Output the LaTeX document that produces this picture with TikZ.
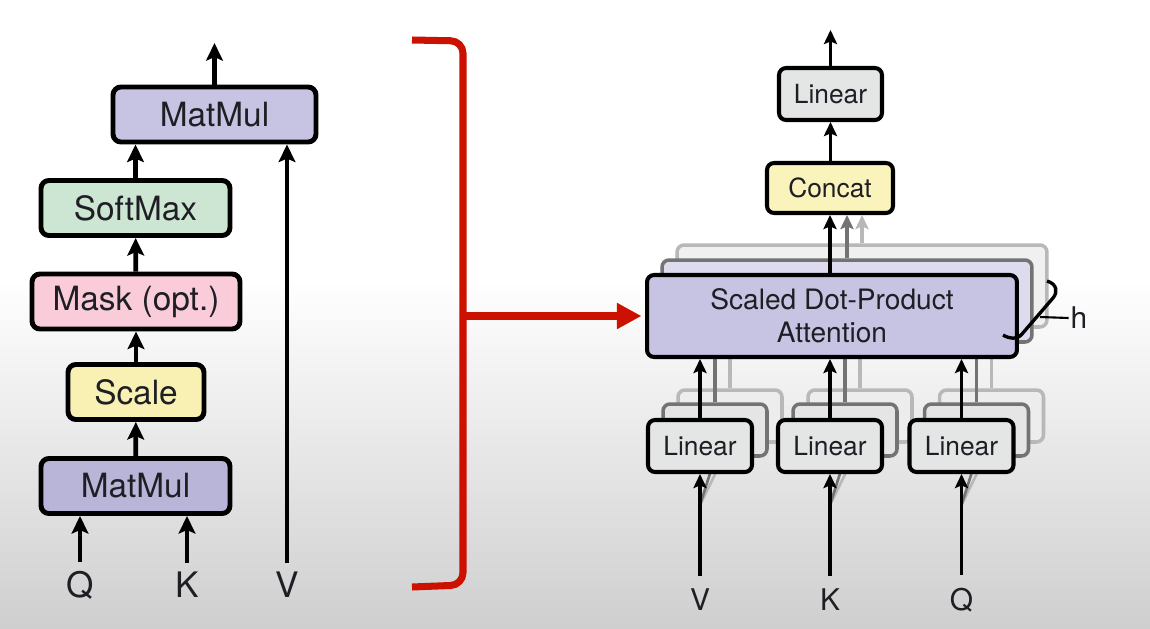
\documentclass[tikz,border=0pt]{standalone}
\usepackage{fontspec}
\setmainfont{TeX Gyre Heros}
\usetikzlibrary{arrows.meta}
\usetikzlibrary{calc}

\definecolor{lav}{HTML}{C7C3E3}
\definecolor{lavdark}{HTML}{B9B5D8}
\definecolor{softgreen}{HTML}{CDE6D3}
\definecolor{maskpink}{HTML}{FACCDA}
\definecolor{scaleyellow}{HTML}{F8F1B3}
\definecolor{concatyellow}{HTML}{FAF4BC}
\definecolor{lingray}{HTML}{E4E6E6}
\definecolor{bracketred}{HTML}{CC1100}
\definecolor{txt}{HTML}{1E1E24}

\tikzset{
  lbox/.style={draw=black, line width=2.8pt, rounded corners=4.5pt, minimum height=1.1cm, inner sep=0pt, text=txt, font=\fontsize{19}{22}\selectfont},
  rbox/.style={draw=black, line width=2.3pt, rounded corners=4pt, minimum height=1.04cm, inner sep=0pt, text=txt, font=\fontsize{15}{18}\selectfont},
  lay2/.style={rbox, draw=black!55, line width=2pt},
  lay3/.style={rbox, draw=black!28, line width=2pt},
  larr/.style={line width=2.7pt, -{Stealth[length=10pt, width=9.5pt, inset=2pt]}},
  rarr/.style={line width=2.1pt, -{Stealth[length=8pt, width=7.5pt, inset=1.5pt]}},
  llab/.style={inner sep=5pt, text=txt, font=\fontsize{20}{24}\selectfont},
  rlab/.style={inner sep=7pt, text=txt, font=\fontsize{17}{20}\selectfont},
}

\begin{document}
\begin{tikzpicture}[x=0.02cm, y=-0.02cm]
\useasboundingbox (0,0) rectangle (1150,629);
\fill[white] (0,0) rectangle (1150,629);
\shade[top color=white, bottom color=black!19] (0,280) rectangle (1150,629);

% left: scaled dot-product attention
\node[lbox, fill=lav, minimum width=4.06cm] (mm2) at (214.5,114.5) {MatMul};
\node[lbox, fill=softgreen, minimum width=3.78cm] (sm) at (135.5,208) {SoftMax};
\node[lbox, fill=maskpink, minimum width=4.16cm] (mask) at (136,301.5) {Mask (opt.)};
\node[lbox, fill=scaleyellow, minimum width=2.72cm] (scale) at (136,392) {Scale};
\node[lbox, fill=lavdark, minimum width=3.78cm] (mm1) at (135.5,486) {MatMul};

\node[llab] (lq) at (80,585) {Q};
\node[llab] (lk) at (187,585) {K};
\node[llab] (lv) at (287,585) {V};
\coordinate (lout) at (214.5,43);

\draw[larr] (lq.north) -- (lq.north |- mm1.south);
\draw[larr] (lk.north) -- (lk.north |- mm1.south);
\draw[larr] (lv.north) -- (lv.north |- mm2.south);
\draw[larr] (mm1) -- (scale);
\draw[larr] (scale) -- (mask);
\draw[larr] (mask) -- (sm);
\draw[larr] (sm.north) -- (sm.north |- mm2.south);
\draw[larr] (mm2) -- (lout);

% bracket
\draw[bracketred, line width=4pt, rounded corners=7pt] (412,40) -- (463,41) -- (463,585) -- (412,587);
\coordinate (br) at (463,316);

% right: multi-head attention, back layers first
\node[lay3, fill=black!6, minimum width=7.4cm, minimum height=1.64cm] (att3) at (862,286) {};
\foreach \n/\x in {v/700, k/830, q/961.5}
  \node[lay3, fill=black!7, minimum width=2.08cm] (lin\n3) at (\x+30,416) {};
\foreach \n in {v, k, q}
  \draw[rarr, black!28] (lin\n3.north) -- (lin\n3.north |- att3.south);

\node[lay2, fill=lav!60!white, minimum width=7.4cm, minimum height=1.64cm] (att2) at (847,301) {};
\foreach \n/\x in {v/700, k/830, q/961.5}
  \node[lay2, fill=black!10, minimum width=2.08cm] (lin\n2) at (\x+15,430) {};
\foreach \n in {v, k, q}
  \draw[rarr, black!55] (lin\n2.north) -- (lin\n2.north |- att2.south);

\node[rbox, fill=lav, minimum width=7.4cm, minimum height=1.64cm, font=\fontsize{16}{19}\selectfont, align=center] (att) at (832,316) {Scaled Dot-Product\\Attention};
\node[rbox, fill=concatyellow, minimum width=2.52cm, minimum height=1cm] (concat) at (830,188) {Concat};
\node[rbox, fill=lingray, minimum width=2.06cm] (outlin) at (830.5,94) {Linear};
\coordinate (rout) at (830.5,30);

\draw[rarr, black!28] (att3.north) -- (att3.north |- concat.south);
\draw[rarr, black!55] (att2.north) -- (att2.north |- concat.south);
\draw[rarr] (concat.south |- att.north) -- (concat.south);
\draw[rarr] (concat.north -| outlin.south) -- (outlin.south);
\draw[rarr] (outlin) -- (rout);

\foreach \n/\x/\lab in {v/700/V, k/830/K, q/961.5/Q} {
  \node[rlab] (in\n) at (\x,600) {\lab};
  \coordinate (b\n) at (\x,505);
  \draw[black!28, line width=1.5pt] (b\n) -- (lin\n3.south);
  \draw[black!55, line width=1.5pt] (b\n) -- (lin\n2.south);
  \node[rbox, fill=lingray, minimum width=2.08cm] (lin\n) at (\x,446) {Linear};
  \draw[rarr] (in\n.north) -- (lin\n.south);
  \draw[rarr] (lin\n.north) -- (lin\n.north |- att.south);
}

\draw[bracketred, line width=4pt, -{Triangle[length=14pt, width=14pt]}, shorten >=2pt] (br) -- (att.west);

% h brace
\draw[black, line width=1.9pt] (1047,281) .. controls (1057,284) and (1058,292) .. (1053,298) -- (1022,334) .. controls (1017,340) and (1010,339) .. (1003,335);
\node[rlab, inner sep=1pt] (hlab) at (1079,318) {h};
\coordinate (hb) at (1040,317);
\draw[black, line width=1.2pt] (hb) -- (hlab.west);
\end{tikzpicture}
\end{document}
